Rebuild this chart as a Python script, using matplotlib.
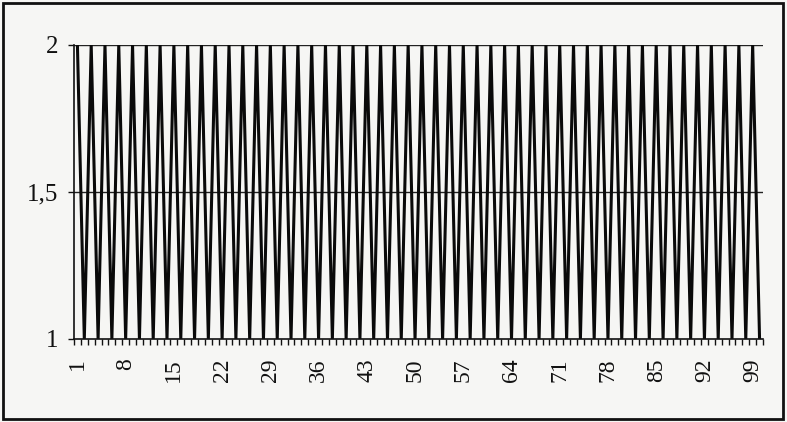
import matplotlib
matplotlib.use("Agg")
import matplotlib.pyplot as plt
from matplotlib.patches import Rectangle
import numpy as np

# Data: 100 categories, values alternate between 2 and 1
categories = list(range(1, 101))
values = [2 if c % 2 == 1 else 1 for c in categories]
x_tick_labels = [str(c) for c in range(1, 101, 7)]
y_ticks = [1, 1.5, 2]
y_tick_labels = ["1", "1,5", "2"]

plt.rcParams['font.family'] = ['Liberation Serif', 'DejaVu Serif']

fig = plt.figure(figsize=(7.87, 4.22), dpi=100, facecolor='#f6f6f4')
ax = fig.add_axes([0.094, 0.1967, 0.8755, 0.6967])
ax.set_facecolor('#f6f6f4')

ax.plot(categories, values, color='#0a0a0a', lw=2.2, solid_joinstyle='miter')

ax.set_xlim(0.5, 100.5)
ax.set_ylim(1, 2)

# grid lines at 1.5 and 2
for yv in [1.5, 2]:
    ax.axhline(yv, color='#222222', lw=1.0, zorder=0)

ax.set_yticks(y_ticks)
ax.set_yticklabels(y_tick_labels, fontsize=18)
ax.tick_params(axis='y', direction='out', length=4, width=1, pad=7, colors='#111111')

# x ticks: marks at category boundaries, labels every 7 categories
ax.set_xticks(np.arange(0.5, 101, 1), minor=True)
ax.set_xticks(list(range(1, 101, 7)))
ax.set_xticklabels(x_tick_labels, rotation=90, fontsize=17)
ax.tick_params(axis='x', which='major', length=0, pad=14, colors='#111111')
ax.tick_params(axis='x', which='minor', direction='out', length=4, width=1, color='#111111')

for s in ['top', 'right']:
    ax.spines[s].set_visible(False)
for s in ['left', 'bottom']:
    ax.spines[s].set_color('#111111')
    ax.spines[s].set_linewidth(1.2)

# outer chart border
fig.patches.append(Rectangle((0.004, 0.006), 0.991, 0.988, transform=fig.transFigure,
                             fill=False, edgecolor='#111111', lw=2.0))

fig.savefig('out.png', dpi=100, facecolor=fig.get_facecolor())
